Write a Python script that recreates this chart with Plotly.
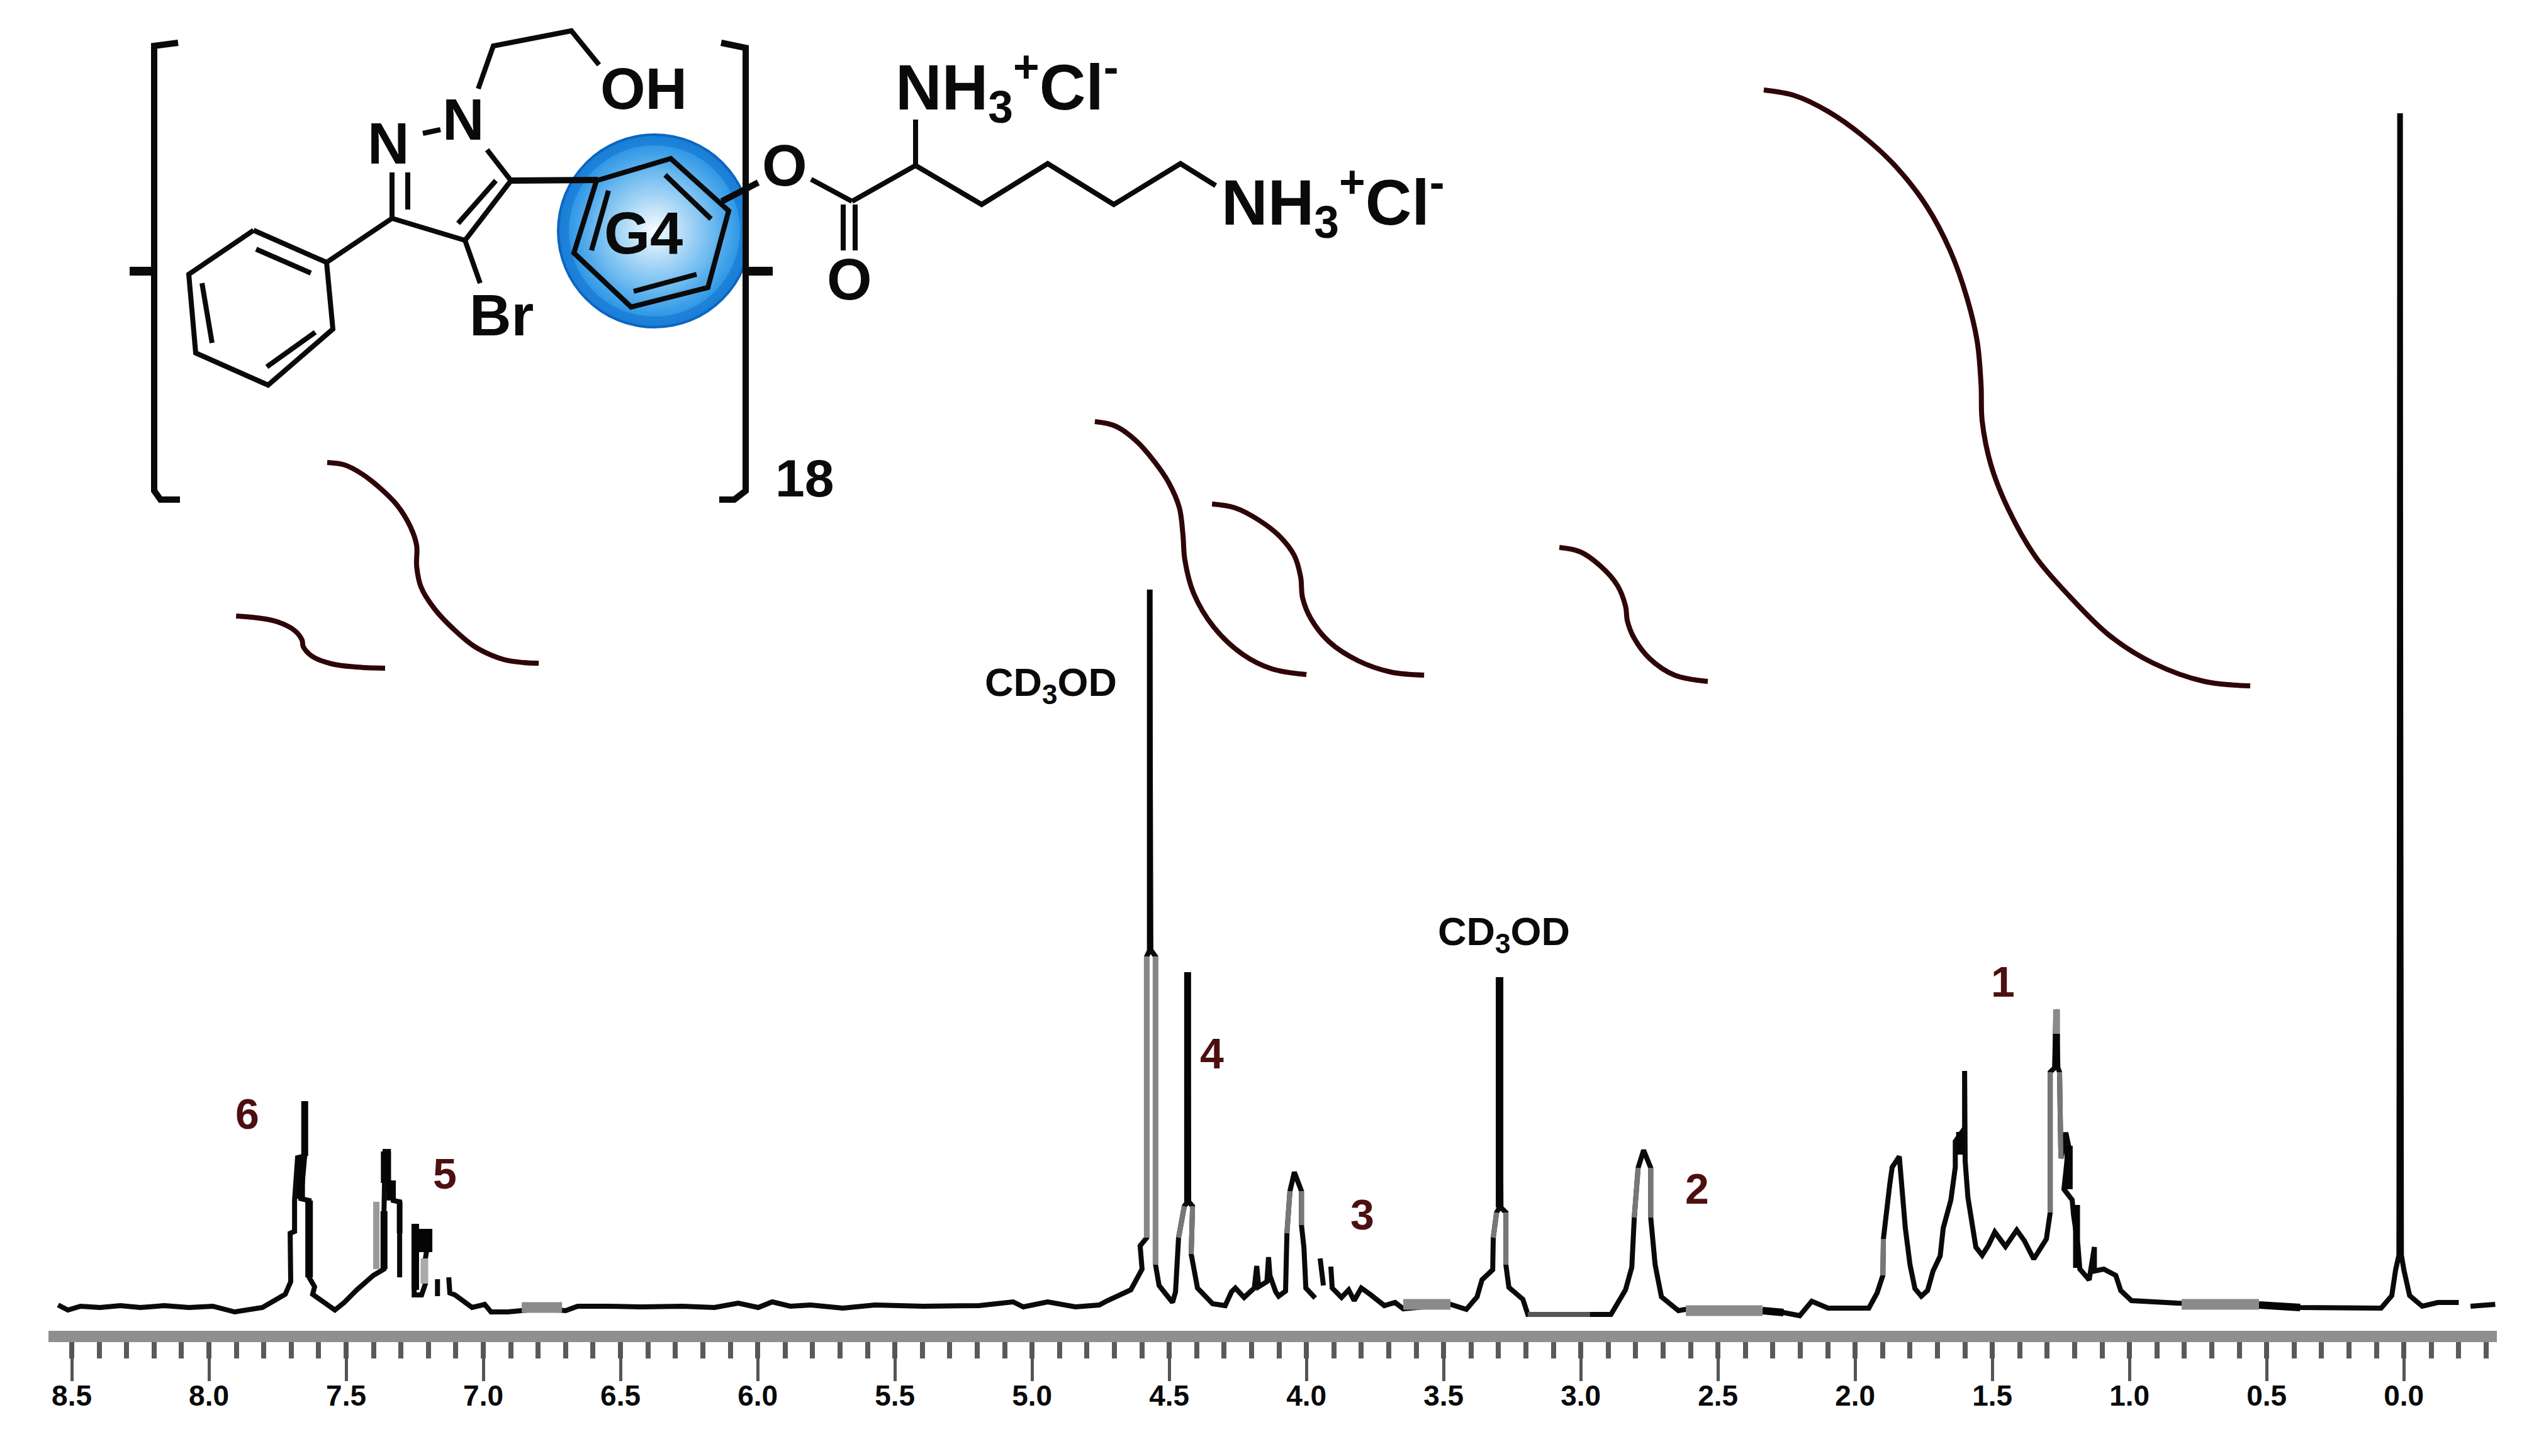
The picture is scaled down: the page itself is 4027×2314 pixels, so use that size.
import plotly.graph_objects as go

# ---------- spectrum (chemical shift in ppm, intensity in arbitrary units) ----------
N = None
spec_ppm = [8.550,8.514,8.468,8.397,8.323,8.250,8.163,8.073,7.986,7.906,7.805,7.722,7.702,7.704,7.688,7.688,7.677,7.651,7.651,7.651,7.665,7.635,7.635,7.615,7.622,7.541,7.507,7.461,7.401,7.362,7.362,7.358,7.346,7.346,7.328,7.328,7.305,7.305,N,
 7.252,7.252,7.225,7.211,7.211,7.195,N,7.167,7.167,N,
 7.126,7.122,7.103,7.041,6.995,6.972,6.911,6.865,6.789,6.700,6.656,6.539,6.422,6.275,6.158,6.071,5.998,5.947,5.881,5.807,5.690,5.573,5.397,5.193,5.069,5.032,4.943,4.842,4.755,4.725,4.640,4.599,4.606,4.582,4.582,4.571,4.571,4.567,4.550,4.550,4.537,4.488,4.477,4.466,4.445,4.433,4.433,4.429,4.415,4.420,4.397,4.342,4.296,4.273,4.259,4.227,4.190,4.181,4.174,4.144,4.138,4.133,4.112,4.101,4.076,4.071,4.060,4.044,4.018,4.018,4.009,4.002,3.968,N,
 3.950,3.945,3.938,N,
 3.911,3.906,3.872,3.846,3.826,3.800,3.768,3.716,3.677,3.647,3.475,3.417,3.378,3.360,3.321,3.319,3.307,3.296,3.296,3.291,3.273,3.273,3.262,3.211,3.193,2.966,2.890,2.837,2.814,2.805,2.791,2.771,2.745,2.745,2.729,2.706,2.644,2.619,2.337,2.261,2.202,2.158,2.099,1.950,1.920,1.899,1.897,1.874,1.865,1.839,1.828,1.817,1.800,1.782,1.759,1.736,1.716,1.690,1.679,1.651,1.635,1.635,1.601,1.601,1.599,1.589,1.567,1.560,1.537,1.514,1.491,1.452,1.411,1.383,1.349,1.303,1.289,1.289,1.273,1.268,1.261,1.255,1.250,1.232,1.222,1.239,1.209,1.204,1.188,1.181,1.147,1.128,1.128,1.094,1.050,1.032,0.993,0.826,0.528,0.378,0.083,0.044,0.030,0.018,0.014,0.009,0.000,-0.021,-0.067,-0.124,-0.200,N,
 -0.243,-0.333]
spec_int = [0.05,-0.35,-0.05,-0.15,0,-0.15,0,-0.15,-0.05,-0.5,-0.15,0.9,1.9,5.75,5.9,8.35,11.75,11.9,16.25,11.9,8.5,8.35,2.25,1.5,0.9,-0.35,0.25,1.25,2.4,2.9,7.5,12.25,12.25,9.75,9.75,8.35,8.25,2.25,N,
 6.5,0.85,0.85,1.75,3.75,6.0,N,2.1,0.75,N,
 2.25,1.0,0.85,-0.15,0.1,-0.5,-0.5,-0.4,-0.25,-0.4,-0.05,-0.05,-0.1,-0.05,-0.15,0.2,-0.15,0.3,-0.05,0.05,-0.2,0.05,-0.05,0,0.3,-0.1,0.3,-0.1,0.05,0.4,1.25,2.9,4.75,5.4,27.75,28.25,56.9,28.25,27.75,3.25,1.6,0.25,1.1,5.4,7.9,8.25,26.5,8.25,7.9,4.1,1.4,0.15,0,1.1,1.4,0.65,1.4,3.15,1.5,1.9,3.85,2.4,1.1,0.75,1.15,5.75,9.1,10.6,9.1,6.4,4.6,1.4,0.6,N,
 3.75,2.4,1.6,N,
 3.1,1.4,0.65,1.25,0.4,1.4,0.9,0,0.25,-0.25,0.1,-0.3,0.7,2.05,2.85,5.4,7.4,7.8,26.1,7.8,7.4,3.25,1.45,0.5,-0.7,-0.7,-0.7,1.25,3.05,7.0,10.95,12.35,10.95,7.0,3.25,0.7,-0.4,-0.3,-0.4,-0.55,-0.8,0.35,-0.2,-0.2,1.0,2.4,5.3,9.6,11.0,11.85,9.25,6.15,3.25,1.35,0.75,1.2,2.75,3.95,6.15,8.4,11,13.05,14.1,18.65,11.5,8.6,5.85,4.65,4.0,4.8,5.85,4.7,6.0,5.15,3.7,5.3,7.4,18.55,18.9,23.55,18.9,18.55,11.7,13.75,12.7,9.25,8.4,7.2,4.8,2.9,2.05,4.65,2.75,2.9,2.4,1.2,0.4,0.2,0.05,-0.15,-0.2,0.8,2.85,4,94.75,4,2.85,0.8,-0.05,0.25,0.25,N,
 -0.05,0.1]

# heavier strokes of the scanned trace: (ppm list, intensity list, width)
heavy_segments = [
 ([7.651,7.651],[16.25,11.9],11), ([7.665,7.665],[11.75,8.5],13), ([7.635,7.635],[8.35,2.25],12),
 ([7.355,7.355],[12.25,9.75],16), ([7.339,7.339],[9.75,8.35],12), ([7.362,7.362],[7.5,2.9],11),
 ([7.305,7.305],[8.25,5.75],9), ([7.248,7.248],[6.5,1.25],12), ([7.211,7.211],[6.1,4.25],22),
 ([4.571,4.571],[56.9,28.25],9), ([4.433,4.433],[26.5,8.25],11), ([3.296,3.296],[26.1,7.8],12),
 ([0.014,0.014],[94.75,4],9), ([1.266,1.266],[21.6,18.9],11), ([1.617,1.617],[13.8,12],13),
 ([1.222,1.222],[12.7,9.25],13), ([1.193,1.193],[8,3],11), ([2.337,2.261],[-0.4,-0.55],12),
 ([0.528,0.378],[0.05,-0.15],12),
]
# grey strokes of the scanned trace: (ppm list, intensity list, width, colour)
grey_segments = [
 ([4.582,4.582],[27.75,5.4],9,"#868686"), ([4.550,4.550],[27.75,3.25],9,"#868686"),
 ([4.466,4.445],[5.4,7.9],8,"#777777"), ([4.415,4.420],[7.9,4.1],8,"#777777"),
 ([4.060,4.071],[9.1,5.75],8,"#777777"), ([4.018,4.018],[9.1,6.4],8,"#777777"),
 ([3.319,3.307],[5.4,7.4],8,"#777777"), ([3.273,3.273],[7.4,3.25],8,"#777777"),
 ([2.805,2.791],[7.0,10.95],8,"#777777"), ([2.745,2.745],[10.95,7.0],8,"#777777"),
 ([1.289,1.289],[18.55,7.4],8,"#777777"), ([1.255,1.250],[18.55,11.7],8,"#777777"),
 ([1.897,1.899],[5.3,2.4],8,"#777777"), ([1.266,1.266],[23.55,21.6],11,"#8a8a8a"),
 ([7.390,7.390],[8.25,2.9],10,"#9a9a9a"), ([7.215,7.215],[3.75,1.75],12,"#aaaaaa"),
 ([6.860,6.713],[-0.15,-0.15],17,"#8b8b8b"), ([3.647,3.475],[0.1,0.1],17,"#8b8b8b"),
 ([2.617,2.337],[-0.4,-0.4],17,"#8b8b8b"), ([0.810,0.528],[0.1,0.1],17,"#8b8b8b"),
 ([3.193,2.966],[-0.7,-0.7],8,"#555555"),
]

# integral curves (ppm, height)
integral_ppm = [
 [7.901,7.823,7.752,7.688,7.661,7.656,7.624,7.553,7.466,7.358],
 [7.569,7.505,7.443,7.378,7.314,7.266,7.243,7.243,7.227,7.179,7.108,7.030,6.927,6.853,6.798],
 [4.771,4.697,4.622,4.555,4.502,4.463,4.450,4.443,4.411,4.337,4.232,4.126,4.000],
 [4.344,4.261,4.172,4.096,4.044,4.021,4.014,3.984,3.917,3.812,3.693,3.571],
 [3.078,3.002,2.927,2.867,2.837,2.830,2.807,2.748,2.658,2.537],
 [2.333,2.220,2.099,1.975,1.851,1.739,1.654,1.592,1.555,1.541,1.537,1.505,1.443,1.344,1.220,1.073,0.913,0.727,0.560],
]
integral_int = [
 [54.8,54.65,54.35,53.65,52.9,52.35,51.6,51.0,50.75,50.65],
 [67.0,66.8,66.1,65.0,63.6,61.9,60.4,58.75,57.1,55.4,53.75,52.35,51.35,51.1,51.05],
 [70.25,69.9,68.75,67.1,65.4,63.4,61.25,59.25,56.6,53.9,51.75,50.6,50.15],
 [63.7,63.4,62.4,61.1,59.6,57.9,56.25,54.6,52.75,51.25,50.35,50.1],
 [60.25,59.9,58.75,57.25,55.6,54.4,53.1,51.4,50.1,49.6],
 [96.6,96.15,94.9,93.0,90.5,87.35,83.85,80.05,76.6,73.15,70.3,66.8,63.35,59.55,56.4,53.25,51.05,49.6,49.25],
]

tick_values = [8.5,8.0,7.5,7.0,6.5,6.0,5.5,5.0,4.5,4.0,3.5,3.0,2.5,2.0,1.5,1.0,0.5,0.0]
tick_labels = ["8.5","8.0","7.5","7.0","6.5","6.0","5.5","5.0","4.5","4.0","3.5","3.0","2.5","2.0","1.5","1.0","0.5","0.0"]

# peak labels: text, x, y in page pixels
peak_labels = [("6",393,1770),("5",707,1865),("4",1926,1674),("3",2165,1930),("2",2697,1889),("1",3183,1560)]
solvent_labels = [("CD<sub>3</sub>OD",1670,1088),("CD<sub>3</sub>OD",2390,1484)]

# structure drawing, in page pixels
thin_bonds = [
 [(403,366),(519,417),(529,523),(426,612),(311,561),(300,436),(403,366)],
 [(407,396),(494,434)],[(321,450),(337,545)],[(424,583),(501,528)],
 [(519,417),(623,347)],[(623,347),(623,274)],[(648,333),(648,274)],
 [(672,212),(700,206)],[(623,347),(739,382)],[(739,382),(812,287)],[(728,355),(788,287)],
 [(774,238),(812,287)],[(739,382),(763,450)],
 [(760,141),(784,73),(908,49),(952,103)],
 [(948,287),(1066,252),(1158,335),(1125,457),(1003,488),(912,402),(948,287)],
 [(1057,278),(1130,348)],[(1107,436),(1007,463)],[(967,303),(940,398)],
 [(1289,285),(1354,320)],[(1340,325),(1340,398)],[(1359,325),(1359,398)],
 [(1354,320),(1455,263),(1455,190)],
 [(1455,263),(1560,325),(1665,260),(1770,325),(1876,260),(1932,295)],
]
heavy_bonds = [
 [(283,68),(245,73),(245,780),(255,794),(286,794)],
 [(1146,68),(1185,76),(1185,780),(1167,794),(1143,794)],
 [(812,287),(950,286)],[(1147,320),(1205,290)],
]
stubs = [[(206,431),(246,431)],[(1188,431),(1228,431)]]
struct_labels = [
 ("N",617,228,92),("N",736,190,92),("OH",1023,141,92),("Br",797,501,92),("G4",1022,370,94),
 ("O",1247,263,92),("O",1350,444,92),("18",1278,760,84),
]
salt_labels = [("NH<sub>3</sub><sup>+</sup>Cl<sup>-</sup>",1600,138),("NH<sub>3</sub><sup>+</sup>Cl<sup>-</sup>",2118,321)]

W, H = 4027, 2314
FONT = "Liberation Sans"

def polyline(groups):
    xs, ys = [], []
    for g in groups:
        xs += [p[0] for p in g] + [None]
        ys += [p[1] for p in g] + [None]
    return xs, ys

fig = go.Figure()

# spectrum
fig.add_trace(go.Scatter(x=spec_ppm, y=spec_int, mode="lines", line=dict(color="#0a0a0a", width=8), connectgaps=False))
for xs, ys, wd in heavy_segments:
    fig.add_trace(go.Scatter(x=xs, y=ys, mode="lines", line=dict(color="#050505", width=wd)))
for xs, ys, wd, col in grey_segments:
    fig.add_trace(go.Scatter(x=xs, y=ys, mode="lines", line=dict(color=col, width=wd)))
for xs, ys in zip(integral_ppm, integral_int):
    fig.add_trace(go.Scatter(x=xs, y=ys, mode="lines", line=dict(color="#2f0608", width=8, shape="spline", smoothing=1)))

# structure on a second, page-pixel subplot
ball = [(310, "#0b66c0", "#0b66c0"), (302, "#1a7ed6", "#48b2f2"), (272, "#2f98e6", "#eff9ff"), (200, "#62b5ee", "#f8fcff")]
for sz, edge, centre in ball:
    fig.add_trace(go.Scatter(x=[1040], y=[367], xaxis="x2", yaxis="y2", mode="markers",
                             marker=dict(size=sz, color=edge, line=dict(width=0),
                                         gradient=dict(type="radial", color=centre))))
# blue stops at the right bracket
fig.add_trace(go.Scatter(x=[1186,1205,1205,1186,1186], y=[200,200,540,540,200], xaxis="x2", yaxis="y2",
                         mode="lines", fill="toself", fillcolor="white", line=dict(width=0, color="white")))
for groups, wd in [(thin_bonds, 8), (heavy_bonds, 10), (stubs, 14)]:
    xs, ys = polyline(groups)
    fig.add_trace(go.Scatter(x=xs, y=ys, xaxis="x2", yaxis="y2", mode="lines",
                             line=dict(color="#0a0a0a", width=wd)))

ann = []
def add_text(t, x, y, size, color="#0a0a0a"):
    ann.append(dict(text=t, x=x, y=y, xref="x2", yref="y2", showarrow=False,
                    xanchor="center", yanchor="middle",
                    font=dict(family=FONT, size=size, color=color, weight="bold")))
for t, x, y in peak_labels:
    add_text(t, x, y, 68, "#4d0f10")
for t, x, y in solvent_labels:
    add_text(t, x, y, 63)
for t, x, y, s in struct_labels:
    add_text(t, x, y, s)
for t, x, y in salt_labels:
    add_text(t, x, y, 102)

fig.update_layout(
    width=W, height=H, margin=dict(l=0, r=0, t=0, b=0),
    paper_bgcolor="white", plot_bgcolor="rgba(0,0,0,0)", showlegend=False, annotations=ann,
    xaxis=dict(domain=[77/W, 3968/W], range=[8.585, -0.339], anchor="free", position=(H-2124)/H,
               tickmode="array", tickvals=tick_values, ticktext=tick_labels, showgrid=False, zeroline=False,
               showline=True, linecolor="#8f8f8f", linewidth=18,
               ticks="outside", ticklen=62, tickwidth=5, tickcolor="#555555", ticklabelstandoff=-16,
               tickfont=dict(family=FONT, size=46, color="#0a0a0a", weight="bold"),
               minor=dict(ticks="outside", ticklen=26, tickwidth=8, tickcolor="#5a5a5a", dtick=0.1, tick0=0, showgrid=False)),
    yaxis=dict(domain=[0, 1], range=[-11.95, 103.75], visible=False, fixedrange=True),
    xaxis2=dict(domain=[0, 1], range=[0, W], visible=False, anchor="y2"),
    yaxis2=dict(domain=[0, 1], range=[H, 0], visible=False, anchor="x2"),
)

fig.write_html("out.html", config=dict(displayModeBar=False),
               post_script="document.body.style.margin='0';document.documentElement.style.overflow='hidden';")
